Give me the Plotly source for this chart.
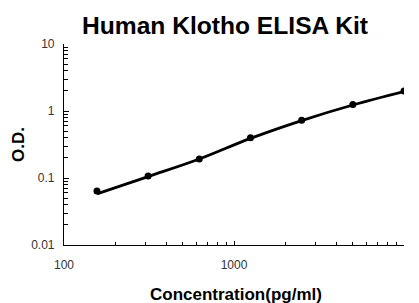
import plotly.graph_objects as go

concentration = [156.25, 312.5, 625, 1250, 2500, 5000, 10000]
od_measured = [0.064, 0.107, 0.192, 0.40, 0.73, 1.25, 1.98]
od_fit = [0.058, 0.105, 0.192, 0.39, 0.72, 1.23, 1.95]

x_ticks = [100, 1000, 10000]
x_ticklabels = ["100", "1000", "10000"]
y_ticks = [0.01, 0.1, 1, 10]
y_ticklabels = ["0.01", "0.1", "1", "10"]

# the page body has an 8px margin, so the figure is drawn offset by (8, 8)
OFF = 8
W, H = 419 - OFF, 303 - OFF
L, R, T, B = 64 - OFF, 15, 44 - OFF, 58
PW, PH = W - L - R, H - T - B

fig = go.Figure()
fig.add_trace(go.Scatter(x=concentration, y=od_fit, mode="lines",
                         line=dict(color="black", width=2.8, shape="spline"),
                         hoverinfo="skip", showlegend=False))
fig.add_trace(go.Scatter(x=concentration, y=od_measured, mode="markers",
                         marker=dict(color="black", size=7), showlegend=False))

font = "Liberation Sans, Arial, sans-serif"
fig.update_layout(
    width=W, height=H,
    margin=dict(l=L, r=R, t=T, b=B, autoexpand=False),
    paper_bgcolor="white", plot_bgcolor="white",
    title=dict(text="<b>Human Klotho ELISA Kit</b>", x=(225 - OFF) / W, xanchor="center",
               y=1 - (25 - OFF) / H, yanchor="middle",
               font=dict(family=font, size=24.6, color="black")),
    font=dict(family=font),
)
fig.update_xaxes(
    type="log", range=[2, 4], tickvals=x_ticks, ticktext=x_ticklabels,
    automargin=False,
    showgrid=False, zeroline=False, showline=True, linecolor="black", linewidth=1.2,
    ticks="inside", ticklen=4, tickcolor="black", tickwidth=1,
    tickfont=dict(size=12, color="#333333"), ticklabelstandoff=8,
    minor=dict(ticks="inside", ticklen=3, tickcolor="black", showgrid=False,
               tickvals=[200, 300, 400, 500, 600, 700, 800, 900,
                         2000, 3000, 4000, 5000, 6000, 7000, 8000, 9000]),
)
fig.update_yaxes(
    type="log", range=[-2, 1], tickvals=y_ticks, ticktext=y_ticklabels,
    automargin=False,
    showgrid=False, zeroline=False, showline=True, linecolor="black", linewidth=1.2,
    ticks="inside", ticklen=5, tickcolor="black", tickwidth=1,
    tickfont=dict(size=12, color="#333333"), ticklabelstandoff=6,
    minor=dict(ticks="inside", ticklen=3.5, tickcolor="black", showgrid=False,
               tickvals=[0.02, 0.03, 0.04, 0.05, 0.06, 0.07, 0.08, 0.09,
                         0.2, 0.3, 0.4, 0.5, 0.6, 0.7, 0.8, 0.9,
                         2, 3, 4, 5, 6, 7, 8, 9]),
)
fig.add_annotation(text="<b>Concentration(pg/ml)</b>", xref="paper", yref="paper",
                   x=(236 - 64) / PW, y=-(294 - 245) / PH,
                   xanchor="center", yanchor="middle", showarrow=False,
                   font=dict(family=font, size=17, color="black"))
fig.add_annotation(text="<b>O.D.</b>", xref="paper", yref="paper", textangle=-90,
                   x=-(64 - 18) / PW, y=(245 - 145) / PH,
                   xanchor="center", yanchor="middle", showarrow=False,
                   font=dict(family=font, size=17, color="black"))
fig.write_html("out.html")
